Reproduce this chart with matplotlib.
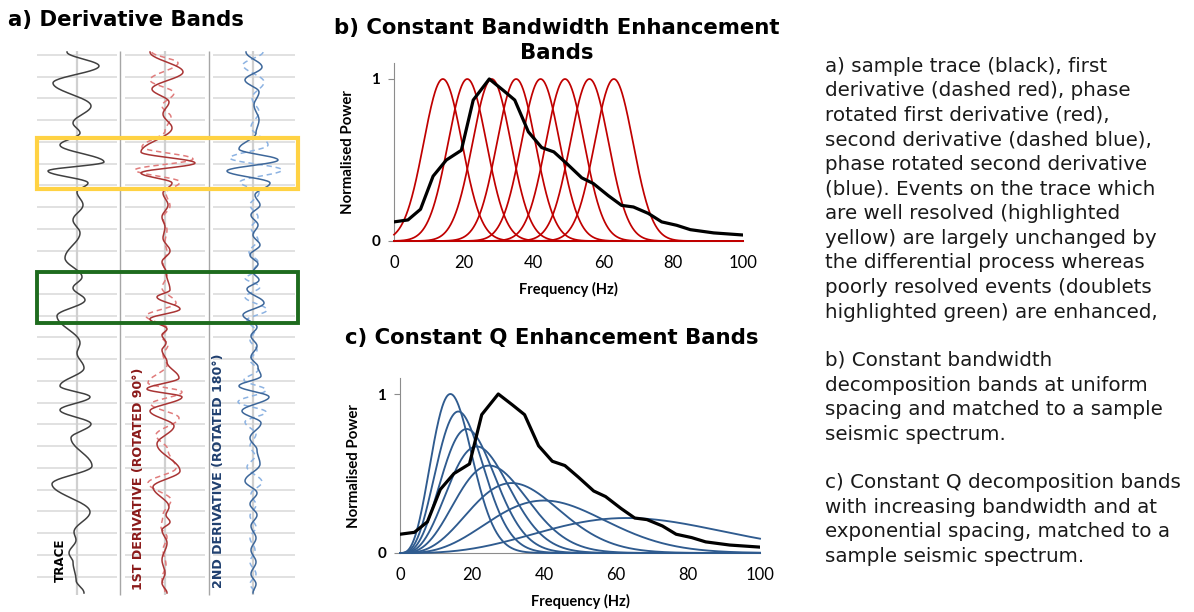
import numpy as np
import matplotlib
matplotlib.use('Agg')
import matplotlib.pyplot as plt
from matplotlib.patches import Rectangle

W, H = 1194, 612
fig = plt.figure(figsize=(W / 100, H / 100), dpi=100)


def fx(px):
    return px / W


def fy(py):
    return 1 - py / H


# ---------------- data: panel a (extrema of each trace, time vs amplitude) ----------------
trace_t = [52, 66, 83, 106, 123, 133, 145, 162, 171, 183, 192, 205, 220, 233, 258, 277, 288, 300, 316,
           343, 353, 368, 386, 397, 410, 424, 438, 466, 484, 512, 532, 540, 553, 562, 580, 593]
trace_a = [-10, 22, -24, 14, -4, 3, -17, 27, -29, 11, 0, 6, -4, 3, -12, 5, -4, 8, -20,
           3, 0, 7, -17, 13, -17, 14, -6, 15, -25, 13, -3, -1, -8, -4, -1, 7]

d1rot_t = [52, 72, 89, 102, 114, 128, 152, 163, 173, 183, 193, 205, 217, 227, 238, 251, 262, 272, 290,
           297, 309, 319, 329, 335, 343, 350, 362, 378, 389, 397, 411, 426, 444, 471, 487, 507, 515,
           522, 530, 543, 560, 573, 583, 593]
d1rot_a = [-15, 18, -13, 4, -2, 7, -24, 30, -24, 7, -2, 3, -3, 0, -2, 5, -3, 1, 5,
           -8, 15, -15, 2, -3, 1, -3, 2, 14, -18, 17, -15, 9, -8, 15, -12, 4, 1,
           5, -3, 2, -3, 0, -3, 2]

d1_t = [52, 63, 80, 93, 106, 117, 131, 147, 159, 170, 182, 193, 206, 218, 230, 242, 252, 263, 275, 288,
        303, 316, 328, 337, 345, 355, 365, 383, 392, 404, 418, 435, 450, 468, 483, 500, 515, 527, 537,
        550, 565, 578, 593]
d1_a = [-13, 13, -15, 9, -3, 6, 0, -23, 28, -30, 15, 1, 5, -2, 2, 0, 2, -2, 2, -3,
        11, -19, 2, -3, 3, -2, 2, -17, 17, -14, 14, -9, 3, 11, -17, 6, -2, -4, 2,
        -2, 1, -3, 0]

d2rot_t = [52, 67, 80, 92, 105, 120, 133, 149, 160, 171, 183, 195, 205, 215, 225, 235, 245, 255, 264,
           272, 280, 289, 303, 315, 327, 336, 346, 357, 367, 376, 386, 397, 411, 423, 438, 450, 464,
           481, 493, 504, 515, 526, 538, 550, 562, 574, 584, 593]
d2rot_a = [-7, 9, -8, 6, 1, 6, 3, -14, 25, -26, 17, 2, 7, -2, 5, 0, 7, -3, 5,
           0, 6, -6, 11, -10, 4, -2, 4, -2, 5, 8, -14, 16, -11, 8, -3, 4, 7,
           -8, 4, -3, 4, -2, 3, -2, 3, -2, 3, 0]

d2_t = [52, 65, 82, 98, 112, 127, 145, 158, 170, 182, 193, 205, 217, 228, 240, 252, 262, 273, 278,
        287, 297, 310, 320, 330, 340, 350, 360, 370, 380, 390, 402, 412, 422, 434, 446, 456, 467,
        482, 494, 505, 516, 527, 538, 550, 562, 574, 584, 593]
d2_a = [10, -10, 11, -1, 6, -2, 15, -23, 29, -13, 6, -3, 5, -2, 5, -4, 5, -1, -8,
        7, -8, 14, -6, 2, -3, 4, -3, 5, -9, 13, -15, 13, -8, 3, -3, 2, -6,
        9, -2, 3, -3, 3, -3, 2, -3, 3, -3, 2]

yellow_box_t = (138, 189)
green_box_t = (272, 323)

track_labels = ['TRACE', '1ST DERIVATIVE (ROTATED 90°)', '2ND DERIVATIVE (ROTATED 180°)']

# ---------------- data: spectra ----------------
spec_f = [0, 4, 7.6, 11.2, 15, 19.3, 22.7, 27.3, 31.3, 34.6, 38.5, 42.3, 45.8, 49.5, 53.8, 57.1,
          61.4, 65.2, 68.6, 72.9, 76.7, 81, 84.9, 91.6, 100]
spec_p = [0.118, 0.13, 0.196, 0.40, 0.50, 0.56, 0.87, 1.0, 0.93, 0.87, 0.674, 0.577, 0.55, 0.478,
          0.39, 0.355, 0.28, 0.22, 0.21, 0.17, 0.118, 0.097, 0.07, 0.05, 0.037]

cb_centres = [14, 21, 28, 35, 42, 49, 56, 63]
cb_sigma = 5.5

cq_centres = [14, 16.2, 18.5, 21.3, 24.8, 31, 40, 63]
cq_peaks = [1.0, 0.89, 0.78, 0.67, 0.55, 0.44, 0.33, 0.22]
cq_order = 3.0

freq_ticks = [0, 20, 40, 60, 80, 100]

text_a = ["a) sample trace (black), first",
          "derivative (dashed red), phase",
          "rotated first derivative (red),",
          "second derivative (dashed blue),",
          "phase rotated second derivative",
          "(blue). Events on the trace which",
          "are well resolved (highlighted",
          "yellow) are largely unchanged by",
          "the differential process whereas",
          "poorly resolved events (doublets",
          "highlighted green) are enhanced,"]
text_b = ["b) Constant bandwidth",
          "decomposition bands at uniform",
          "spacing and matched to a sample",
          "seismic spectrum."]
text_c = ["c) Constant Q decomposition bands",
          "with increasing bandwidth and at",
          "exponential spacing, matched to a",
          "sample seismic spectrum."]


def wiggle(t, a, n=24):
    t = np.asarray(t, float)
    a = np.asarray(a, float)
    tt, aa = [], []
    s = np.linspace(0, 1, n, endpoint=False)
    w = (1 - np.cos(np.pi * s)) / 2
    for i in range(len(t) - 1):
        tt.append(t[i] + (t[i + 1] - t[i]) * s)
        aa.append(a[i] + (a[i + 1] - a[i]) * w)
    tt.append([t[-1]])
    aa.append([a[-1]])
    return np.concatenate(tt), np.concatenate(aa)


# ---------------- panel a ----------------
T_TOP, T_BOT = 51, 595
grid_t = 55 + 21.73 * np.arange(25)
tracks = [(37, 117, 77), (125, 205, 165), (213, 295, 253)]
track_axes = []
for (l, r, c) in tracks:
    ax = fig.add_axes([fx(l), fy(T_BOT), fx(r - l), (T_BOT - T_TOP) / H])
    ax.set_xlim(l - c, r - c)
    ax.set_ylim(T_BOT, T_TOP)
    ax.axis('off')
    ax.hlines(grid_t, l - c, r - c, color='#D9D9D9', lw=1.1, zorder=1)
    ax.axvline(0, color='#D0D0D0', lw=1.6, zorder=1)
    track_axes.append(ax)

tx, ta = wiggle(trace_t, trace_a)
track_axes[0].plot(ta, tx, color='#404040', lw=1.1, zorder=3)
tx, ta = wiggle(d1_t, d1_a)
track_axes[1].plot(ta, tx, color='#E07C7C', lw=1.1, ls=(0, (3.5, 2.5)), zorder=3)
tx, ta = wiggle(d1rot_t, d1rot_a)
track_axes[1].plot(ta, tx, color='#A93434', lw=1.1, zorder=4)
tx, ta = wiggle(d2_t, d2_a)
track_axes[2].plot(ta, tx, color='#8DB3E2', lw=1.1, ls=(0, (3.5, 2.5)), zorder=3)
tx, ta = wiggle(d2rot_t, d2rot_a)
track_axes[2].plot(ta, tx, color='#3D679A', lw=1.1, zorder=4)

ov = fig.add_axes([fx(30), fy(600), fx(275), (600 - 45) / H])
ov.set_xlim(30, 305)
ov.set_ylim(600, 45)
ov.axis('off')
ov.patch.set_alpha(0)
ov.vlines([120, 209], T_TOP, T_BOT, color='#A6A6A6', lw=1.0)
ov.add_patch(Rectangle((37, yellow_box_t[0]), 261, yellow_box_t[1] - yellow_box_t[0],
                       fill=False, ec='#FFD243', lw=3.0, zorder=10))
ov.add_patch(Rectangle((37, green_box_t[0]), 261, green_box_t[1] - green_box_t[0],
                       fill=False, ec='#1E6B1E', lw=2.8, zorder=10))
label_specs = [(60, 582, '#000000', 8.6), (138, 590, '#8B1A1A', 9.1), (218, 588, '#1F3F6F', 9.1)]
for (x, yb, col, fs), lab in zip(label_specs, track_labels):
    ov.text(x, yb, lab, rotation=90, ha='center', va='bottom', fontsize=fs,
            fontweight='bold', color=col, family='DejaVu Sans')

fig.text(fx(8), fy(20), 'a) Derivative Bands', ha='left', va='center', fontsize=15.3,
         fontweight='bold', family='DejaVu Sans')

# ---------------- panels b and c ----------------
f = np.linspace(0, 100, 801)


def style_spec(ax):
    ax.set_xlim(0, 100)
    ax.set_ylim(0, 1.1)
    ax.set_xticks(freq_ticks)
    ax.set_yticks([0, 1])
    ax.set_yticklabels(['0', '1'], fontweight='bold')
    for sp in ['top', 'right']:
        ax.spines[sp].set_visible(False)
    ax.spines['left'].set_color('#8C8C8C')
    ax.spines['bottom'].set_color('#8C8C8C')
    ax.tick_params(axis='y', length=4, color='#8C8C8C', labelsize=11, pad=6)
    ax.tick_params(axis='x', length=0, labelsize=12, pad=10)
    ax.set_ylabel('Normalised Power', fontsize=10.8, fontweight='bold', labelpad=12)
    ax.set_xlabel('Frequency (Hz)', fontsize=10.5, fontweight='bold', labelpad=8)
    for lab in ax.get_xticklabels() + ax.get_yticklabels():
        lab.set_family('Lato')
    ax.xaxis.label.set_family('Lato')
    ax.yaxis.label.set_family('Lato')


axb = fig.add_axes([fx(394), fy(241), fx(743 - 394), 1.1 * 162 / H])
for c in cb_centres:
    axb.plot(f, np.exp(-(f - c) ** 2 / (2 * cb_sigma ** 2)), color='#C00000', lw=1.25,
             clip_on=False, zorder=3)
axb.plot(spec_f, spec_p, color='black', lw=2.3, zorder=4)
style_spec(axb)
fig.text(fx(557), fy(28), 'b) Constant Bandwidth Enhancement', ha='center', va='center',
         fontsize=15.3, fontweight='bold', family='DejaVu Sans')
fig.text(fx(557), fy(53), 'Bands', ha='center', va='center',
         fontsize=15.3, fontweight='bold', family='DejaVu Sans')

axc = fig.add_axes([fx(400), fy(553), fx(360), 1.1 * 159 / H])
for c, p in zip(cq_centres, cq_peaks):
    r = f / c
    axc.plot(f, p * r ** cq_order * np.exp(cq_order / 2 * (1 - r ** 2)), color='#2F5B8F',
             lw=1.35, clip_on=False, zorder=3)
axc.plot(spec_f, spec_p, color='black', lw=2.3, zorder=4)
style_spec(axc)
fig.text(fx(552), fy(338), 'c) Constant Q Enhancement Bands', ha='center', va='center',
         fontsize=15.3, fontweight='bold', family='DejaVu Sans')

# ---------------- right text ----------------
for lines, y0 in [(text_a, 71.7), (text_b, 366), (text_c, 488)]:
    for k, line in enumerate(lines):
        fig.text(fx(825), fy(y0 + 24.6 * k), line, ha='left', va='baseline', fontsize=14.3,
                 family='DejaVu Sans', color='#1A1A1A')

fig.savefig('out.png', dpi=100)
